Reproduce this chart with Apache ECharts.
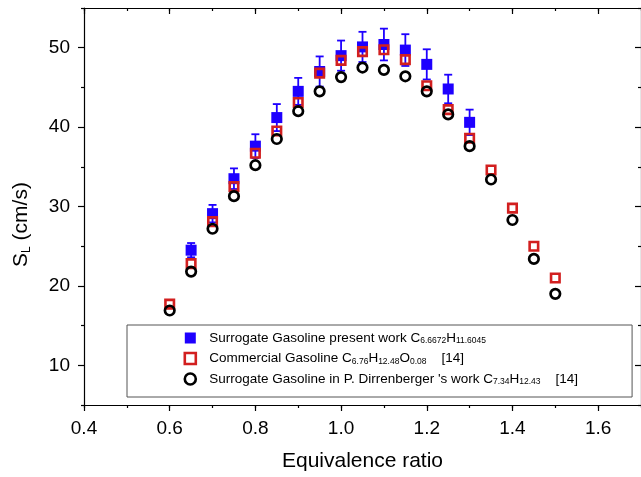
<!DOCTYPE html>
<html>
<head>
<meta charset="utf-8">
<script src="https://cdn.jsdelivr.net/npm/echarts@6/dist/echarts.min.js"></script>
<style>
  html, body { margin: 0; padding: 0; background: #fff; }
  #chart { width: 641px; height: 477px; }
</style>
</head>
<body>
<div id="chart"></div>
<script>
// Laminar burning velocity S_L versus equivalence ratio
const phiAll = [0.6, 0.65, 0.7, 0.75, 0.8, 0.85, 0.9, 0.95, 1.0, 1.05, 1.1, 1.15, 1.2, 1.25, 1.3, 1.35, 1.4, 1.45, 1.5];
const phiPresent = [0.65, 0.7, 0.75, 0.8, 0.85, 0.9, 0.95, 1.0, 1.05, 1.1, 1.15, 1.2, 1.25, 1.3];

// Surrogate gasoline, present work (with measurement uncertainty)
const presentSL  = [24.5, 29.1, 33.5, 37.6, 41.2, 44.5, 47.0, 49.0, 50.1, 50.4, 49.7, 47.9, 44.8, 40.6];
const presentErr = [0.9, 1.1, 1.3, 1.5, 1.7, 1.7, 1.9, 1.9, 1.9, 2.0, 2.0, 1.9, 1.8, 1.6];

// Commercial gasoline [14]
const commercialSL = [17.7, 22.8, 28.1, 32.5, 36.7, 39.5, 43.1, 46.8, 48.4, 49.5, 49.75, 48.5, 45.2, 42.2, 38.6, 34.6, 29.8, 25.0, 21.0];

// Surrogate gasoline from P. Dirrenberger's work [14]
const dirrenbergerSL = [16.9, 21.8, 27.2, 31.3, 35.2, 38.5, 42.0, 44.5, 46.3, 47.5, 47.2, 46.4, 44.5, 41.6, 37.6, 33.4, 28.3, 23.4, 19.0];

// Axis ticks
const xMajorTicks = [0.4, 0.6, 0.8, 1.0, 1.2, 1.4, 1.6];
const yMajorTicks = [10, 20, 30, 40, 50];

const legendLabels = {
  present: '{g| }Surrogate Gasoline present work C{s|6.6672}H{s|11.6045}',
  commercial: '{g| }Commercial Gasoline C{s|6.76}H{s|12.48}O{s|0.08}    [14]',
  dirrenberger: "{g| }Surrogate Gasoline in P. Dirrenberger 's work C{s|7.34}H{s|12.43}    [14]"
};

const BLUE = '#1e00ff';
const RED = '#d21f1f';
const BLACK = '#000000';
const FONT = 'Liberation Sans, Arial, sans-serif';

const pair = (xs, ys) => xs.map((x, i) => [x, ys[i]]);
const errData = phiPresent.map((x, i) => [x, presentSL[i], presentErr[i]]);

const axisLine = { show: true, lineStyle: { color: '#000', width: 1.2 } };
const tickStyle = { color: '#000', width: 1.2 };

const chart = echarts.init(document.getElementById('chart'), null, { renderer: 'canvas' });

chart.setOption({
  animation: false,
  backgroundColor: '#fff',
  grid: { left: 84, right: -2, top: 8, bottom: 70, containLabel: false },
  legend: {
    orient: 'vertical',
    left: 127,
    top: 325,
    padding: [5.5, 54, 10.5, 56.5],
    borderColor: '#555',
    borderWidth: 1,
    itemWidth: 11,
    itemHeight: 11,
    itemGap: 5.5,
    data: [
      { name: 'present', itemStyle: { color: BLUE, borderWidth: 0 } },
      { name: 'commercial', itemStyle: { color: 'rgba(0,0,0,0)', borderColor: RED, borderWidth: 2.6 } },
      { name: 'dirrenberger', itemStyle: { color: 'rgba(0,0,0,0)', borderColor: BLACK, borderWidth: 2.6 } }
    ],
    formatter: (name) => legendLabels[name],
    textStyle: {
      fontFamily: FONT,
      fontSize: 13.5,
      lineHeight: 15,
      color: '#000',
      rich: {
        g: { width: 8.5, fontSize: 13.5, lineHeight: 15 },
        s: { fontFamily: FONT, fontSize: 8.5, lineHeight: 4, verticalAlign: 'bottom', color: '#000' }
      }
    }
  },
  xAxis: [
    {
      type: 'value', position: 'bottom', min: 0.4, max: 1.7, interval: 0.1,
      axisLine, axisTick: { show: true, length: 3, lineStyle: tickStyle },
      axisLabel: { show: false }, splitLine: { show: false }
    },
    {
      type: 'value', position: 'bottom', min: 0.4, max: 1.7,
      axisLine: { show: false },
      axisTick: { show: true, customValues: xMajorTicks, length: 6, lineStyle: tickStyle },
      axisLabel: {
        customValues: xMajorTicks, formatter: (v) => v.toFixed(1),
        fontFamily: FONT, fontSize: 19, color: '#000', margin: 14
      },
      splitLine: { show: false },
      name: 'Equivalence ratio', nameLocation: 'middle', nameGap: 46,
      nameTextStyle: { fontFamily: FONT, fontSize: 21, color: '#000' }
    },
    {
      type: 'value', position: 'top', min: 0.4, max: 1.7, interval: 0.1,
      axisLine, axisTick: { show: true, inside: true, length: 3, lineStyle: tickStyle },
      axisLabel: { show: false }, splitLine: { show: false }
    },
    {
      type: 'value', position: 'top', min: 0.4, max: 1.7,
      axisLine: { show: false },
      axisTick: { show: true, inside: true, customValues: xMajorTicks, length: 6, lineStyle: tickStyle },
      axisLabel: { show: false }, splitLine: { show: false }
    }
  ],
  yAxis: [
    {
      type: 'value', position: 'left', min: 5, max: 55, interval: 10,
      axisLine, axisTick: { show: true, length: 3, lineStyle: tickStyle },
      axisLabel: { show: false }, splitLine: { show: false }
    },
    {
      type: 'value', position: 'left', min: 5, max: 55,
      axisLine: { show: false },
      axisTick: { show: true, customValues: yMajorTicks, length: 6, lineStyle: tickStyle },
      axisLabel: { customValues: yMajorTicks, fontFamily: FONT, fontSize: 19, color: '#000', margin: 14 },
      splitLine: { show: false },
      name: 'S{sub|L} (cm/s)', nameLocation: 'middle', nameGap: 51,
      nameTextStyle: {
        fontFamily: FONT, fontSize: 21, lineHeight: 24, color: '#000',
        padding: [0, 36, 0, 0],
        rich: { sub: { fontFamily: FONT, fontSize: 12, lineHeight: 8, verticalAlign: 'bottom', color: '#000' } }
      }
    },
    {
      type: 'value', position: 'right', min: 5, max: 55, interval: 10,
      axisLine, axisTick: { show: true, inside: true, length: 3, lineStyle: tickStyle },
      axisLabel: { show: false }, splitLine: { show: false }
    },
    {
      type: 'value', position: 'right', min: 5, max: 55,
      axisLine: { show: false },
      axisTick: { show: true, inside: true, customValues: yMajorTicks, length: 6, lineStyle: tickStyle },
      axisLabel: { show: false }, splitLine: { show: false }
    }
  ],
  series: [
    {
      name: 'present-error',
      type: 'custom',
      xAxisIndex: 0, yAxisIndex: 0,
      data: errData,
      encode: { x: 0, y: 1 },
      z: 2,
      renderItem: (params, api) => {
        const x = api.value(0), y = api.value(1), e = api.value(2);
        const hi = api.coord([x, y + e]);
        const lo = api.coord([x, y - e]);
        const cap = 4;
        const style = { stroke: BLUE, lineWidth: 1.8 };
        return {
          type: 'group',
          children: [
            { type: 'line', shape: { x1: hi[0], y1: hi[1], x2: lo[0], y2: lo[1] }, style },
            { type: 'line', shape: { x1: hi[0] - cap, y1: hi[1], x2: hi[0] + cap, y2: hi[1] }, style },
            { type: 'line', shape: { x1: lo[0] - cap, y1: lo[1], x2: lo[0] + cap, y2: lo[1] }, style }
          ]
        };
      }
    },
    {
      name: 'present', type: 'scatter', xAxisIndex: 0, yAxisIndex: 0,
      data: pair(phiPresent, presentSL),
      symbol: 'rect', symbolSize: 11, z: 3,
      itemStyle: { color: BLUE, opacity: 1 }
    },
    {
      name: 'commercial', type: 'scatter', xAxisIndex: 0, yAxisIndex: 0,
      data: pair(phiAll, commercialSL),
      symbol: 'rect', symbolSize: 8.5, z: 4,
      itemStyle: { color: 'rgba(0,0,0,0)', borderColor: RED, borderWidth: 2.6, opacity: 1 }
    },
    {
      name: 'dirrenberger', type: 'scatter', xAxisIndex: 0, yAxisIndex: 0,
      data: pair(phiAll, dirrenbergerSL),
      symbol: 'circle', symbolSize: 9.5, z: 5,
      itemStyle: { color: 'rgba(0,0,0,0)', borderColor: BLACK, borderWidth: 2.7, opacity: 1 }
    }
  ]
});
</script>
</body>
</html>
